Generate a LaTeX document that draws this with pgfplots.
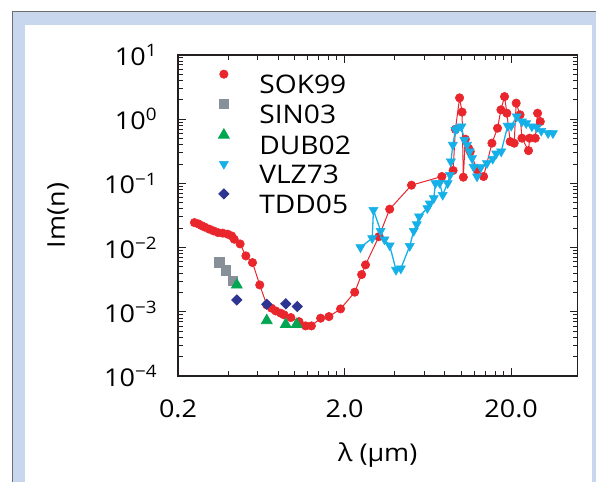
\documentclass[border=0pt]{standalone}
\usepackage{fontspec}
\setmainfont{Open Sans}[FakeStretch=1.1]
\usepackage{pgfplots}
\pgfplotsset{compat=1.18}
\definecolor{sokred}{RGB}{234,38,45}
\definecolor{singray}{RGB}{135,144,152}
\definecolor{dubgreen}{RGB}{0,166,81}
\definecolor{vlzcyan}{RGB}{22,176,232}
\definecolor{tddnavy}{RGB}{46,52,146}
\definecolor{framebl}{RGB}{200,215,238}
\definecolor{framegr}{RGB}{110,110,110}
\definecolor{axisk}{RGB}{35,31,32}
\newcommand{\chartfont}{\fontsize{12.25}{14}\selectfont}
\newcommand{\legfont}{\fontsize{12.8}{14.5}\selectfont}
\begin{document}
\chartfont
\begin{tikzpicture}[font=\chartfont]
\fill[white] (0,0) rectangle (298pt,241pt);
\fill[framebl] (6.5pt,0) rectangle (298pt,235pt);
\fill[white] (12.5pt,0) rectangle (296pt,228.5pt);
\draw[framegr, line width=0.7pt] (6.25pt,0) -- (6.25pt,235.25pt) -- (298pt,235.25pt);
\begin{axis}[at={(89pt,53pt)}, anchor=south west, scale only axis,
  width=199.75pt, height=160.5pt,
  xmode=log, ymode=log, xmin=0.2, xmax=50, ymin=1e-4, ymax=10,
  axis line style={axisk, line width=0.65pt},
  tick style={axisk, line width=0.5pt},
  tick align=inside, tick pos=both,
  major tick length=4pt, minor tick length=2.3pt,
  xtick={0.2,2,20}, xticklabels={0.2,2.0,20.0},
  minor xtick={0.4,0.6,0.8,1,1.2,1.4,1.6,1.8,4,6,8,10,12,14,16,18},
  ytick={1e-4,1e-3,1e-2,1e-1,1,10},
  yticklabels={10\textsuperscript{−4},10\textsuperscript{−3},10\textsuperscript{−2},10\textsuperscript{−1},10\textsuperscript{0},10\textsuperscript{1}},
  minor ytick={2e-4,3e-4,4e-4,5e-4,6e-4,7e-4,8e-4,9e-4,
    2e-3,3e-3,4e-3,5e-3,6e-3,7e-3,8e-3,9e-3,
    2e-2,3e-2,4e-2,5e-2,6e-2,7e-2,8e-2,9e-2,
    0.2,0.3,0.4,0.5,0.6,0.7,0.8,0.9,2,3,4,5,6,7,8,9},
  xticklabel style={inner sep=0pt, anchor=north, yshift=-11.5pt, font=\chartfont},
  yticklabel style={inner sep=0pt, anchor=east, xshift=-10pt, font=\chartfont},
  xlabel={λ (μm)}, ylabel={Im(n)},
  every axis x label/.style={at={(axis description cs:0.5,0)}, anchor=center, yshift=-39.5pt, font=\chartfont},
  every axis y label/.style={at={(axis description cs:-0.3004,0.5)}, anchor=center, rotate=90, font=\chartfont},
  legend cell align=left,
  legend style={draw=none, fill=none, at={(0.0938,0.9546)}, anchor=north west,
    inner sep=0pt, row sep=-1.1pt, font=\legfont, cells={font=\legfont},
    /tikz/every odd column/.append style={column sep=11.75pt}},
  legend image code/.code={\path[draw=none,fill=none] (0pt,0pt) rectangle (8pt,8pt);
    \draw[#1] plot[only marks] coordinates {(4pt,6pt)};},
]
\addplot[color=sokred, line width=0.5pt, mark=*, mark size=2.1pt, mark options={solid, line width=0.3pt}] coordinates {
(0.251,0.0245) (0.265,0.0234) (0.277,0.0220) (0.290,0.0208) (0.308,0.0194)
(0.327,0.0182) (0.348,0.0171) (0.371,0.0168) (0.397,0.0162) (0.420,0.0152)
(0.435,0.0135) (0.472,0.0114) (0.511,0.00743) (0.560,0.00584) (0.619,0.00262)
(0.682,0.00128) (0.728,0.00114) (0.773,0.00103) (0.828,0.00095) (0.867,0.000895)
(0.951,0.000813) (1.065,0.000703) (1.167,0.000603) (1.264,0.000603) (1.436,0.000795)
(1.611,0.000842) (1.892,0.00111) (2.30,0.00202) (2.53,0.00380) (2.67,0.00538)
(3.21,0.0148) (3.73,0.0397) (5.04,0.0938) (7.67,0.128) (8.96,0.159)
(9.25,0.694) (9.80,2.15) (10.14,1.29) (10.32,0.125) (10.61,0.488)
(11.10,0.353) (11.36,0.313) (12.47,0.162) (13.65,0.128) (15.32,0.423)
(16.56,0.724) (17.35,1.40) (18.24,2.25) (18.84,1.24) (19.72,0.448)
(20.84,0.423) (21.43,1.78) (22.6,1.17) (23.2,0.506) (25.4,0.324)
(25.8,0.506) (27.9,0.506) (28.8,1.24) (29.9,0.918)
};
\addlegendentry{\legfont SOK99}
\addplot[only marks, color=singray, mark=square*, mark size=2.4pt] coordinates {
(0.353,0.00584) (0.388,0.00438) (0.426,0.00303)
};
\addlegendentry{\legfont SIN03}
\addplot[only marks, color=dubgreen, mark=triangle*, mark size=3.1pt] coordinates {
(0.451,0.00262) (0.682,0.00073) (0.887,0.000637) (1.03,0.000637)
};
\addlegendentry{\legfont DUB02}
\addplot[color=vlzcyan, line width=0.65pt, mark=triangle*, mark size=2.6pt, mark options={solid, rotate=180, line width=0.3pt}] coordinates {
(2.49,0.0101) (2.93,0.0140) (2.98,0.0386) (3.29,0.0182) (3.47,0.0134)
(3.73,0.0108) (4.07,0.00450) (4.35,0.00471) (4.92,0.0106) (5.20,0.0182)
(5.42,0.0230) (5.60,0.0304) (6.28,0.0411) (6.49,0.0484) (6.86,0.0588)
(7.02,0.1007) (7.44,0.1018) (7.76,0.0662) (8.31,0.1007) (8.59,0.1356)
(8.69,0.2186) (8.93,0.398) (9.25,0.681) (9.54,0.724) (10.04,0.767)
(10.47,0.476) (10.86,0.398) (11.25,0.313) (11.64,0.247) (11.89,0.181)
(12.47,0.128) (13.14,0.178) (14.30,0.206) (15.49,0.241) (16.26,0.291)
(17.42,0.313) (19.06,0.787) (20.0,0.787) (21.6,1.10) (23.2,0.918)
(24.6,0.866) (26.6,0.772) (28.5,0.745) (30.3,0.657) (33.3,0.605) (35.6,0.605)
};
\addlegendentry{\legfont VLZ73}
\addplot[only marks, color=tddnavy, mark=square*, mark size=1.8pt, mark options={rotate=45}] coordinates {
(0.451,0.00153) (0.682,0.00131) (0.887,0.00133) (1.04,0.00121)
};
\addlegendentry{\legfont TDD05}
\end{axis}
\pgfresetboundingbox
\useasboundingbox (0,0) rectangle (298pt,241pt);
\end{tikzpicture}
\end{document}
